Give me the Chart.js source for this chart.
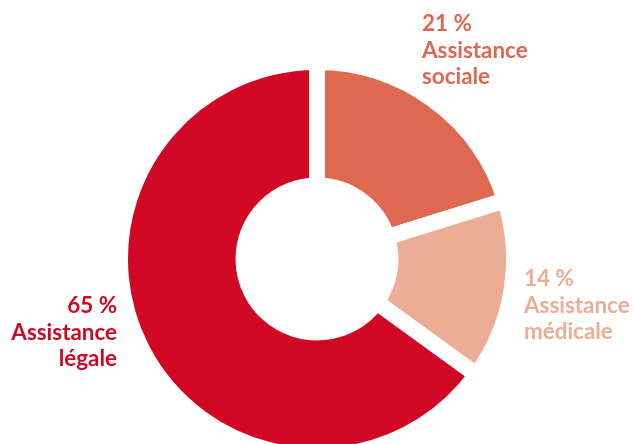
<!DOCTYPE html>
<html>
<head>
<meta charset="utf-8">
<script src="https://cdn.jsdelivr.net/npm/chart.js@4"></script>
<style>
html,body{margin:0;padding:0;background:#fff;}
#wrap{width:633px;height:444px;position:relative;}
</style>
</head>
<body>
<div id="wrap"><canvas id="c"></canvas></div>
<script>
const categories = ["Assistance sociale", "Assistance médicale", "Assistance légale"];
const labelLines = [["21 %", "Assistance", "sociale"], ["14 %", "Assistance", "médicale"], ["65 %", "Assistance", "légale"]];
// slice sizes as drawn in the picture
const values = [20.2, 14.8, 65.0];
const colors = ["#DF6851", "#EDAC95", "#D00824"];

// label anchors relative to donut centre: [dx, dy of first baseline, align]
const labelAnchors = [[105, -228, "left"], [207, 27, "left"], [-200, 54, "right"]];

const labelPlugin = {
  id: "sliceLabels",
  afterDraw(chart) {
    const ctx = chart.ctx;
    const arc = chart.getDatasetMeta(0).data[0];
    const cx = arc.x, cy = arc.y;
    ctx.save();
    ctx.font = "bold 22.4px Lato";
    ctx.textBaseline = "alphabetic";
    labelLines.forEach((lines, i) => {
      const [dx, dy, align] = labelAnchors[i];
      ctx.fillStyle = colors[i];
      ctx.textAlign = align;
      lines.forEach((t, j) => ctx.fillText(t, cx + dx, cy + dy + j * 26.5));
    });
    ctx.restore();
  }
};

new Chart(document.getElementById("c"), {
  type: "doughnut",
  data: {
    labels: categories,
    datasets: [{
      data: values,
      backgroundColor: colors,
      borderColor: "#ffffff",
      borderWidth: 16,
      hoverOffset: 0
    }]
  },
  options: {
    responsive: true,
    maintainAspectRatio: false,
    animation: false,
    radius: 197,
    cutout: "37.3%",
    layout: { padding: { left: 1, top: 74, right: 0, bottom: 0 } },
    plugins: { legend: { display: false }, tooltip: { enabled: false } },
    events: []
  },
  plugins: [labelPlugin]
});
</script>
</body>
</html>
